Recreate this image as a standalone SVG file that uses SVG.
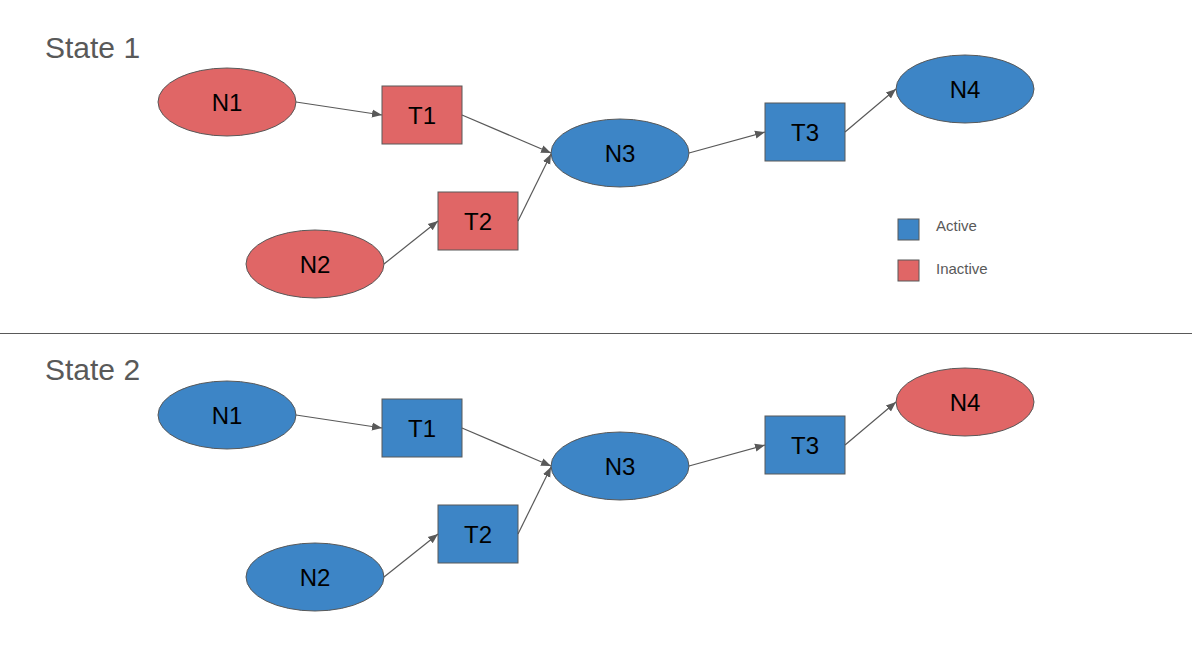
<svg xmlns="http://www.w3.org/2000/svg" width="1192" height="671" viewBox="0 0 1192 671">
<defs>
<marker id="ah" viewBox="0 0 10 10" refX="10" refY="5" markerWidth="10" markerHeight="10" markerUnits="userSpaceOnUse" orient="auto"><path d="M0,1 L10,5 L0,9 Z" fill="#595959"/></marker>
<style>
.r{fill:#e06666;stroke:#595959;stroke-width:1}
.b{fill:#3d85c6;stroke:#595959;stroke-width:1}
.l{font-family:"Liberation Sans",Arial,sans-serif;font-size:24px;fill:#000;text-anchor:middle}
.t{font-family:"Liberation Sans",Arial,sans-serif;font-size:30px;fill:#595959}
.g{font-family:"Liberation Sans",Arial,sans-serif;font-size:15px;fill:#595959}
.c{stroke:#595959;stroke-width:1.2;fill:none;marker-end:url(#ah)}
</style>
</defs>
<rect width="1192" height="671" fill="#fff"/>
<text class="t" x="45" y="58">State 1</text>
<text class="t" x="45" y="380">State 2</text>
<line x1="0" y1="333.5" x2="1192" y2="333.5" stroke="#595959" stroke-width="1.2"/>
<g id="s1-N1"><ellipse class="r" cx="227" cy="102" rx="69" ry="34"/><text class="l" x="227" y="111">N1</text></g>
<g id="s1-T1"><rect class="r" x="382" y="86" width="80" height="58"/><text class="l" x="422" y="124">T1</text></g>
<g id="s1-N2"><ellipse class="r" cx="315" cy="264" rx="69" ry="34"/><text class="l" x="315" y="273">N2</text></g>
<g id="s1-T2"><rect class="r" x="438" y="192" width="80" height="58"/><text class="l" x="478" y="230">T2</text></g>
<g id="s1-N3"><ellipse class="b" cx="620" cy="153" rx="69" ry="34"/><text class="l" x="620" y="162">N3</text></g>
<g id="s1-T3"><rect class="b" x="765" y="103" width="80" height="58"/><text class="l" x="805" y="141">T3</text></g>
<g id="s1-N4"><ellipse class="b" cx="965" cy="89" rx="69" ry="34"/><text class="l" x="965" y="98">N4</text></g>
<g id="legend"><rect class="b" x="898" y="219" width="21" height="21"/><text class="g" x="936" y="231">Active</text><rect class="r" x="898" y="260" width="21" height="21"/><text class="g" x="936" y="274">Inactive</text></g>
<g id="s2-N1"><ellipse class="b" cx="227" cy="415" rx="69" ry="34"/><text class="l" x="227" y="424">N1</text></g>
<g id="s2-T1"><rect class="b" x="382" y="399" width="80" height="58"/><text class="l" x="422" y="437">T1</text></g>
<g id="s2-N2"><ellipse class="b" cx="315" cy="577" rx="69" ry="34"/><text class="l" x="315" y="586">N2</text></g>
<g id="s2-T2"><rect class="b" x="438" y="505" width="80" height="58"/><text class="l" x="478" y="543">T2</text></g>
<g id="s2-N3"><ellipse class="b" cx="620" cy="466" rx="69" ry="34"/><text class="l" x="620" y="475">N3</text></g>
<g id="s2-T3"><rect class="b" x="765" y="416" width="80" height="58"/><text class="l" x="805" y="454">T3</text></g>
<g id="s2-N4"><ellipse class="r" cx="965" cy="402" rx="69" ry="34"/><text class="l" x="965" y="411">N4</text></g>
<g id="connectors">
<line class="c" x1="296" y1="102" x2="382" y2="115"/>
<line class="c" x1="462" y1="115" x2="551" y2="153"/>
<line class="c" x1="518" y1="221" x2="551" y2="154"/>
<line class="c" x1="384" y1="264" x2="438" y2="221"/>
<line class="c" x1="689" y1="153" x2="765" y2="132"/>
<line class="c" x1="845" y1="132" x2="896" y2="89"/>
<line class="c" x1="296" y1="415" x2="382" y2="428"/>
<line class="c" x1="462" y1="428" x2="551" y2="466"/>
<line class="c" x1="518" y1="534" x2="551" y2="467"/>
<line class="c" x1="384" y1="577" x2="438" y2="534"/>
<line class="c" x1="689" y1="466" x2="765" y2="445"/>
<line class="c" x1="845" y1="445" x2="896" y2="402"/>
</g>
</svg>
